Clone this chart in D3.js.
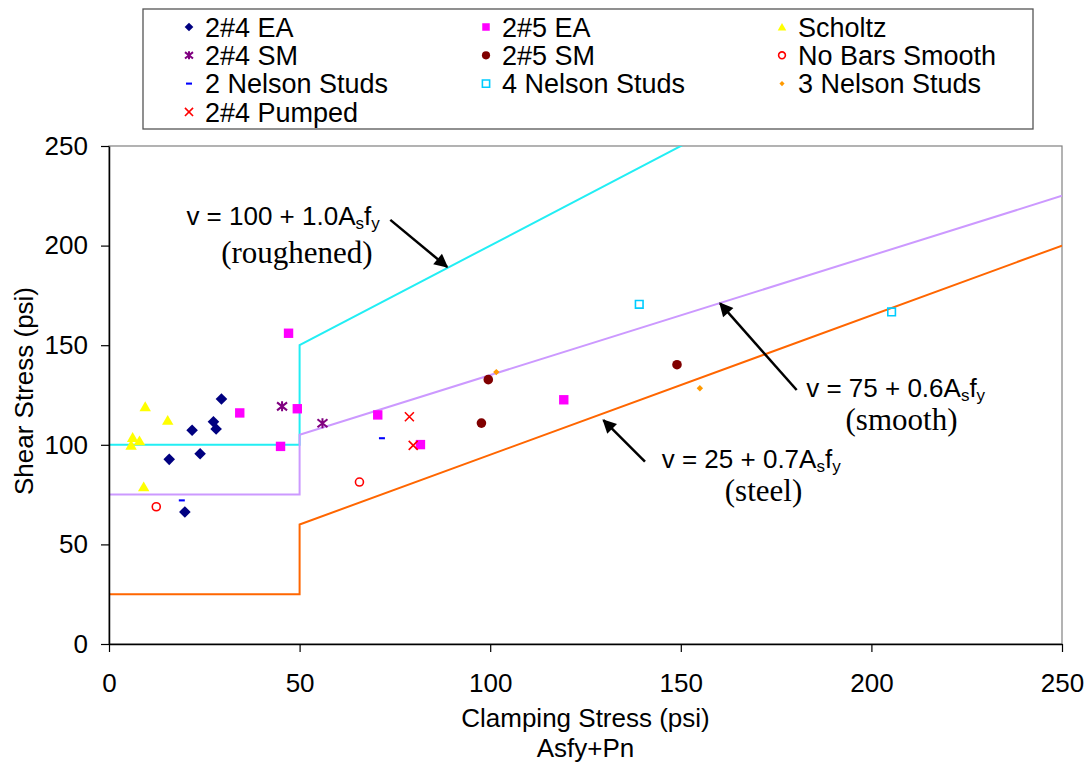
<!DOCTYPE html>
<html>
<head>
<meta charset="utf-8">
<script src="https://cdn.jsdelivr.net/npm/d3@7"></script>
<style>
  body { margin: 0; background: #fff; }
  svg text { font-family: "Liberation Sans", Arial, sans-serif; fill: #000; }
  .serif { font-family: "Liberation Serif", "Times New Roman", serif; }
</style>
</head>
<body>
<svg id="chart" width="1090" height="766"></svg>
<script>
// Axis ticks
const xTicks = [0, 50, 100, 150, 200, 250];
const yTicks = [0, 50, 100, 150, 200, 250];

// Test series: [clamping stress, shear stress] in psi
const ea24 = [[29.5, 123.0], [27.4, 111.6], [28.1, 107.9], [21.8, 107.3], [23.9, 95.5], [15.8, 92.7], [19.9, 66.3]];
const ea25 = [[34.3, 116.0], [49.4, 118.1], [45.0, 99.2], [47.1, 156.0], [70.5, 115.0], [81.7, 100.1], [119.3, 122.6]];
const scholtz = [[9.5, 119.2], [15.4, 112.4], [6.2, 103.8], [8.0, 102.1], [5.8, 99.9], [9.1, 79.0]];
const sm24 = [[45.4, 119.3], [56.0, 110.8]];
const sm25 = [[99.5, 132.7], [97.7, 110.9], [149.0, 140.2]];
const noBarsSmooth = [[12.4, 68.9], [65.7, 81.3]];
const nelson2 = [[19.1, 72.1], [71.6, 103.3]];
const nelson4 = [[139.1, 170.5], [205.3, 166.7]];
const nelson3 = [[101.6, 136.5], [155.0, 128.4]];
const pumped24 = [[78.8, 114.1], [79.8, 99.7]];

// Design equations v = a + b*Asfy, with the flat minimum below Asfy = 50
const designNames = ["roughened", "smooth", "steel"];
const designFloor = [100, 75, 25];
const designIntercept = [100, 75, 25];
const designSlope = [1.0, 0.6, 0.7];
const designBreak = 50;

const width = 1090, height = 766;
const plot = { left: 109, right: 1062, top: 146, bottom: 644 };

const x = d3.scaleLinear().domain([0, 250]).range([plot.left, plot.right]);
const y = d3.scaleLinear().domain([0, 250]).range([plot.bottom, plot.top]);

const svg = d3.select("#chart");

// Marker shapes
function markerPath(shape, s) {
  switch (shape) {
    case "diamond": return `M0,${-s}L${s},0L0,${s}L${-s},0Z`;
    case "square": return `M${-s},${-s}H${s}V${s}H${-s}Z`;
    case "triangle": return `M0,${-s}L${s * 1.1},${s * 0.9}L${-s * 1.1},${s * 0.9}Z`;
    case "circle": return `M${s},0A${s},${s} 0 1,1 ${-s},0A${s},${s} 0 1,1 ${s},0Z`;
    case "x": return `M${-s},${-s}L${s},${s}M${-s},${s}L${s},${-s}`;
    case "star": return `M${-s},${-s * 0.8}L${s},${s * 0.8}M${-s},${s * 0.8}L${s},${-s * 0.8}M0,${-s}L0,${s}`;
    case "dash": return `M${-s},${-s * 0.35}H${s}V${s * 0.35}H${-s}Z`;
  }
}

const series = [
  { name: "2#4 EA", data: ea24, shape: "diamond", size: 5.8, fill: "#000080", stroke: "none" },
  { name: "2#5 EA", data: ea25, shape: "square", size: 4.7, fill: "#FF00FF", stroke: "none" },
  { name: "Scholtz", data: scholtz, shape: "triangle", size: 5.2, fill: "#FFFF00", stroke: "none" },
  { name: "2#4 SM", data: sm24, shape: "star", size: 5, fill: "none", stroke: "#800080", sw: 2 },
  { name: "2#5 SM", data: sm25, shape: "circle", size: 4.8, fill: "#800000", stroke: "none" },
  { name: "No Bars Smooth", data: noBarsSmooth, shape: "circle", size: 4, fill: "none", stroke: "#FF0000", sw: 1.6 },
  { name: "2 Nelson Studs", data: nelson2, shape: "dash", size: 3, fill: "#0000FF", stroke: "none" },
  { name: "4 Nelson Studs", data: nelson4, shape: "square", size: 3.8, fill: "none", stroke: "#00CCFF", sw: 1.6 },
  { name: "3 Nelson Studs", data: nelson3, shape: "diamond", size: 3.2, fill: "#FF9900", stroke: "none" },
  { name: "2#4 Pumped", data: pumped24, shape: "x", size: 4.5, fill: "none", stroke: "#FF0000", sw: 1.6 }
];
const legendScale = [0.75, 0.8, 0.75, 0.8, 0.85, 0.85, 1, 0.95, 0.8, 0.9];

// Plot frame (grey top/right border)
svg.append("rect")
  .attr("x", plot.left).attr("y", plot.top)
  .attr("width", plot.right - plot.left).attr("height", plot.bottom - plot.top)
  .attr("fill", "#fff").attr("stroke", "#808080").attr("stroke-width", 1.2);

svg.append("clipPath").attr("id", "plotClip")
  .append("rect")
  .attr("x", plot.left).attr("y", plot.top)
  .attr("width", plot.right - plot.left).attr("height", plot.bottom - plot.top);

// Design lines
const lineColors = ["#22EEF4", "#CC99FF", "#FF6600"];
const line = d3.line().x(d => x(d[0])).y(d => y(d[1]));
designNames.forEach((n, i) => {
  const pts = [
    [0, designFloor[i]],
    [designBreak, designFloor[i]],
    [designBreak, designIntercept[i] + designSlope[i] * designBreak],
    [250, designIntercept[i] + designSlope[i] * 250]
  ];
  svg.append("path")
    .attr("clip-path", "url(#plotClip)")
    .attr("d", line(pts))
    .attr("fill", "none")
    .attr("stroke", lineColors[i])
    .attr("stroke-width", 2);
});

// Axes
const yAxis = d3.axisLeft(y).tickValues(yTicks).tickSize(8).tickSizeOuter(0).tickPadding(13);
const gy = svg.append("g").attr("transform", `translate(${plot.left},0)`).call(yAxis);
gy.select(".domain").attr("stroke", "#000").attr("stroke-width", 1.5);
gy.selectAll(".tick line").attr("stroke", "#000").attr("stroke-width", 1.2);
gy.selectAll(".tick text").attr("font-size", 26).attr("fill", "#000")
  .attr("font-family", "Liberation Sans, Arial, sans-serif");

const xAxis = d3.axisBottom(x).tickValues(xTicks).tickSize(8).tickSizeOuter(0).tickPadding(0);
const gx = svg.append("g").attr("transform", `translate(0,${plot.bottom})`).call(xAxis);
gx.select(".domain").attr("stroke", "#000").attr("stroke-width", 1.5);
gx.selectAll(".tick line").attr("stroke", "#000").attr("stroke-width", 1.2);
gx.selectAll(".tick text").attr("font-size", 26).attr("fill", "#000")
  .attr("font-family", "Liberation Sans, Arial, sans-serif")
  .attr("y", 48).attr("dy", null);

// Axis titles
svg.append("text")
  .attr("transform", `translate(33,${(plot.top + plot.bottom) / 2 - 4}) rotate(-90)`)
  .attr("text-anchor", "middle").attr("font-size", 26)
  .text("Shear Stress (psi)");
svg.append("text")
  .attr("x", (plot.left + plot.right) / 2).attr("y", 727)
  .attr("text-anchor", "middle").attr("font-size", 26)
  .text("Clamping Stress (psi)");
svg.append("text")
  .attr("x", (plot.left + plot.right) / 2).attr("y", 757)
  .attr("text-anchor", "middle").attr("font-size", 26)
  .text("Asfy+Pn");

// Data points
series.forEach(s => {
  svg.append("g").selectAll("path")
    .data(s.data)
    .join("path")
    .attr("transform", d => `translate(${x(d[0])},${y(d[1])})`)
    .attr("d", markerPath(s.shape, s.size))
    .attr("fill", s.fill)
    .attr("stroke", s.stroke)
    .attr("stroke-width", s.sw || 0);
});

// Annotation arrows
const defs = svg.append("defs");
defs.append("marker")
  .attr("id", "arrowHead")
  .attr("viewBox", "0 0 10 10").attr("refX", 9).attr("refY", 5)
  .attr("markerWidth", 6).attr("markerHeight", 5.5).attr("orient", "auto")
  .attr("markerUnits", "strokeWidth")
  .append("path").attr("d", "M0,0L10,5L0,10Z").attr("fill", "#000");

const arrows = [
  [[73.8, 212.9], [88.7, 189.3]],
  [[180.4, 127.5], [160.3, 171.0]],
  [[140.6, 91.5], [129.7, 112.4]]
];
arrows.forEach(a => {
  svg.append("line")
    .attr("x1", x(a[0][0])).attr("y1", y(a[0][1]))
    .attr("x2", x(a[1][0])).attr("y2", y(a[1][1]))
    .attr("stroke", "#000").attr("stroke-width", 2.5)
    .attr("marker-end", "url(#arrowHead)");
});

// Annotation labels
const eqLabels = [
  { coef: "100 + 1.0", at: [20.3, 210.3], note: "(roughened)", noteAt: [49.3, 191.3] },
  { coef: "75 + 0.6", at: [182.9, 124.0], note: "(smooth)", noteAt: [207.9, 107.2] },
  { coef: "25 + 0.7", at: [145.0, 88.6], note: "(steel)", noteAt: [171.7, 71.8] }
];
eqLabels.forEach(l => {
  const t = svg.append("text")
    .attr("x", x(l.at[0])).attr("y", y(l.at[1]))
    .attr("font-size", 26);
  t.append("tspan").text(`v = ${l.coef}A`);
  t.append("tspan").attr("font-size", 17).attr("dy", 4).text("s");
  t.append("tspan").attr("dy", -4).text("f");
  t.append("tspan").attr("font-size", 17).attr("dy", 4).text("y");
  svg.append("text").attr("class", "serif")
    .attr("x", x(l.noteAt[0])).attr("y", y(l.noteAt[1]))
    .attr("text-anchor", "middle").attr("font-size", 31)
    .text(l.note);
});

// Legend
const legend = svg.append("g");
legend.append("rect")
  .attr("x", 143).attr("y", 9).attr("width", 890).attr("height", 120)
  .attr("fill", "#fff").attr("stroke", "#555").attr("stroke-width", 1.3);
const colX = [189, 486, 782];
series.forEach((s, i) => {
  const cx = colX[i % 3];
  const cy = 27 + Math.floor(i / 3) * 28.3;
  legend.append("path")
    .attr("transform", `translate(${cx},${cy})`)
    .attr("d", markerPath(s.shape, s.size * legendScale[i]))
    .attr("fill", s.fill).attr("stroke", s.stroke).attr("stroke-width", s.sw || 0);
  legend.append("text")
    .attr("x", cx + 16).attr("y", cy + 9.7)
    .attr("font-size", 27)
    .text(s.name);
});
</script>
</body>
</html>
